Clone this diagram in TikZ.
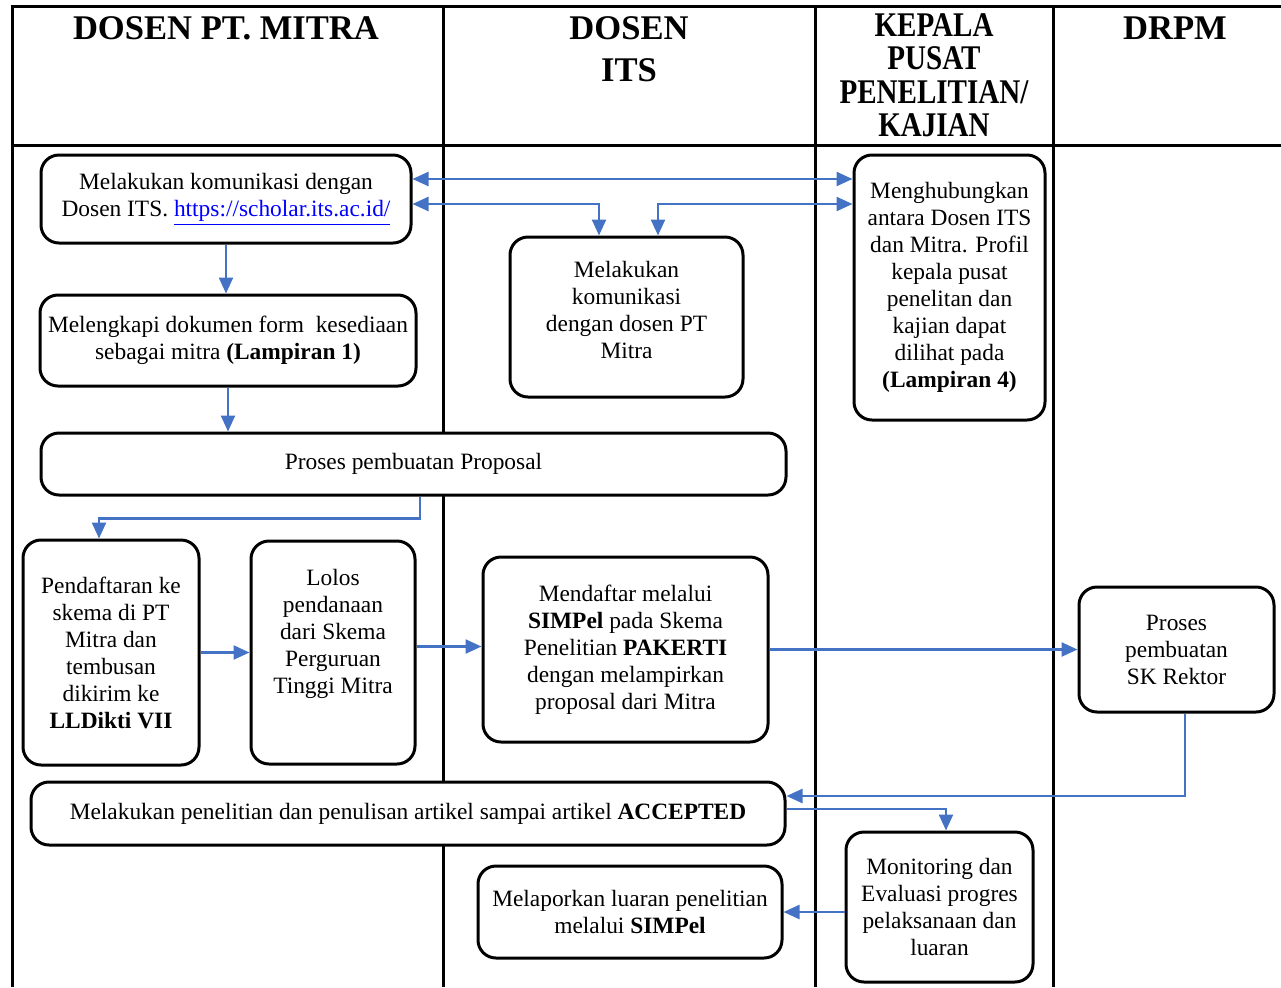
\documentclass[tikz,border=0pt]{standalone}
\usepackage{fontspec}
\setmainfont{Liberation Serif}
\usepackage{graphicx}
\usepackage{xcolor}
\definecolor{flowblue}{HTML}{4472C4}
\newcommand{\weblink}[1]{\textcolor{blue}{\underline{#1}}}
\newcommand{\narrowhead}[1]{\scalebox{0.84}[1]{#1}}
\usetikzlibrary{arrows.meta}

\begin{document}
\begin{tikzpicture}[x=0.5pt, y=-0.5pt, % pixel grid, y runs down
    >={Triangle[length=8pt, width=7pt]},
    lane/.style={line width=1.5pt},
    head/.style={anchor=north, align=center, inner sep=0pt,
      font=\fontsize{17.3}{16.75}\selectfont\bfseries},
    box/.style={draw, fill=white, line width=1.5pt, rounded corners=9pt, align=center,
      inner sep=2pt, font=\fontsize{11.7}{13.5}\selectfont},
    flow/.style={draw=flowblue, line width=1.2pt}]

      \useasboundingbox (0, 0) rectangle (1281, 987);

      % lanes
      \draw [lane] (12, 987) -- (12, 6) -- (1281, 6);
      \draw [lane] (12, 145) -- (1281, 145);
      \foreach \lx in {443, 815, 1053}
        \draw [lane] (\lx, 6) -- (\lx, 987);

      \node [head] (hmitra) at (226, 16) {DOSEN PT. MITRA};
      \node [head] (hits) at (629, 16) {DOSEN\\[4.25pt] ITS};
      \node [head] (hkepala) at (934, 13)
        {\narrowhead{KEPALA}\\ \narrowhead{PUSAT}\\ \narrowhead{PENELITIAN/}\\ \narrowhead{KAJIAN}};
      \node [head] (hdrpm) at (1175, 16) {DRPM};

      % boxes
      \node [box, minimum width=185pt, minimum height=44pt] (komunikasi) at (226, 199)
        {Melakukan komunikasi dengan\\ Dosen ITS. \weblink{https://scholar.its.ac.id/}};
      \node [box, minimum width=188pt, minimum height=45.5pt] (dokumen) at (228, 340.5)
        {Melengkapi dokumen form\ \ kesediaan\\ sebagai mitra \textbf{(Lampiran 1)}};
      \node [box, minimum width=372.5pt, minimum height=31pt] (proposal) at (413.5, 464)
        {Proses pembuatan Proposal};
      \node [box, minimum width=116.5pt, minimum height=80pt] (dosenits) at (626.5, 317)
        {Melakukan\\ komunikasi\\ dengan dosen PT\\ Mitra\\[-6pt]\mbox{}};
      \node [box, minimum width=95.5pt, minimum height=132.5pt] (kepala) at (949.5, 287.5)
        {Menghubungkan\\ antara Dosen ITS\\ dan Mitra. Profil\\ kepala pusat\\
         penelitan dan\\ kajian dapat\\ dilihat pada\\ \textbf{(Lampiran 4)}};
      \node [box, minimum width=88pt, minimum height=112.5pt] (daftar) at (111, 652.5)
        {Pendaftaran ke\\ skema di PT\\ Mitra dan\\ tembusan\\ dikirim ke\\ \textbf{LLDikti VII}};
      \node [box, minimum width=82pt, minimum height=111.5pt] (lolos) at (333, 652.5)
        {Lolos\\ pendanaan\\ dari Skema\\ Perguruan\\ Tinggi Mitra\\[8pt]\mbox{}};
      \node [box, minimum width=142.5pt, minimum height=92.5pt] (simpel) at (625.5, 649.5)
        {Mendaftar melalui\\ \textbf{SIMPel} pada Skema\\ Penelitian \textbf{PAKERTI}\\
         dengan melampirkan\\ proposal dari Mitra};
      \node [box, minimum width=97.5pt, minimum height=62.5pt] (skrektor) at (1176.5, 649.5)
        {Proses\\ pembuatan\\ SK Rektor};
      \node [box, minimum width=377pt, minimum height=31.5pt] (penelitian) at (408, 813.5)
        {Melakukan penelitian dan penulisan artikel sampai artikel \textbf{ACCEPTED}};
      \node [box, minimum width=93.5pt, minimum height=75pt] (monev) at (939.5, 907)
        {Monitoring dan\\ Evaluasi progres\\ pelaksanaan dan\\ luaran};
      \node [box, minimum width=152pt, minimum height=46pt] (laporan) at (630, 912)
        {Melaporkan luaran penelitian\\ melalui \textbf{SIMPel}};

      % connectors
      \coordinate (k1) at ([yshift=10pt]komunikasi.east);
      \coordinate (k2) at ([yshift=-2.5pt]komunikasi.east);
      \draw [flow, <->] (k1) -- (k1 -| kepala.west);
      \draw [flow, <->] (k2) -| ([xshift=-13.75pt]dosenits.north);
      \draw [flow, <->] (k2 -| kepala.west) -| ([xshift=15.75pt]dosenits.north);

      \draw [flow, ->] (komunikasi.south) -- (komunikasi.south |- dokumen.north);
      \draw [flow, ->] (dokumen.south) -- (dokumen.south |- proposal.north);
      \draw [flow, ->] ([xshift=3.25pt]proposal.south) -- ++(0, 22)
        -| ([xshift=-6pt]daftar.north);

      \draw [flow, ->] (daftar.east) -- (daftar.east -| lolos.west);
      \draw [flow, ->] ([yshift=3pt]lolos.east) -- ([yshift=3pt]lolos.east -| simpel.west);
      \draw [flow, ->] (simpel.east) -- (simpel.east -| skrektor.west);

      \coordinate (r1) at ([yshift=8.75pt]penelitian.east);
      \draw [flow, ->] ([xshift=4.25pt]skrektor.south) |- (r1);
      \draw [flow, ->] ([yshift=2.25pt]penelitian.east) -| ([xshift=3.25pt]monev.north);

      \coordinate (m1) at ([yshift=-2.5pt]monev.west);
      \draw [flow, ->] (m1) -- (m1 -| laporan.east);

    \end{tikzpicture}
\end{document}
